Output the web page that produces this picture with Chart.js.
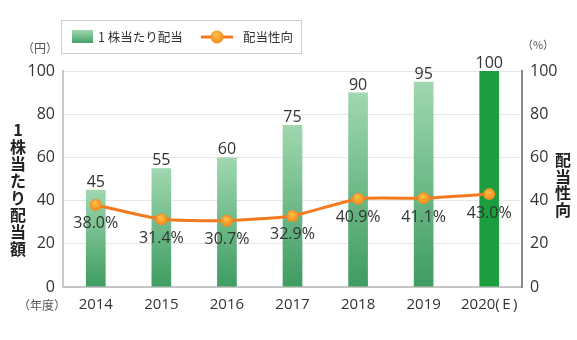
<!DOCTYPE html>
<html>
<head>
<meta charset="utf-8">
<script src="https://cdn.jsdelivr.net/npm/chart.js@4"></script>
<style>
  body { margin: 0; background: #fff; }
  canvas { display: block; }
</style>
</head>
<body>
<canvas id="dividendChart" width="577" height="340"></canvas>
<script>
const years = ['2014', '2015', '2016', '2017', '2018', '2019', '2020(\u2009E\u2009)'];
const dividends = [45, 55, 60, 75, 90, 95, 100];
const payoutRatio = [38.0, 31.4, 30.7, 32.9, 40.9, 41.1, 43.0];
const yTicks = [0, 20, 40, 60, 80, 100];

const FONT = "'Open Sans', 'Noto Sans CJK JP', sans-serif";
const JP = "'Noto Sans CJK JP', sans-serif";

function barColor(ctx) {
  const chart = ctx.chart;
  if (ctx.dataIndex === years.length - 1) return '#1b9e40';
  const y = chart.scales.y;
  if (!chart.chartArea || !y) return '#6bbb86';
  const top = y.getPixelForValue(dividends[ctx.dataIndex]);
  const bottom = y.getPixelForValue(0);
  const g = chart.ctx.createLinearGradient(0, top, 0, bottom);
  g.addColorStop(0, '#a0d7b0');
  g.addColorStop(1, '#3e9c62');
  return g;
}

function pointColor(ctx) {
  const chart = ctx.chart;
  if (!chart.chartArea) return '#f5921e';
  const x = chart.scales.x.getPixelForValue(ctx.dataIndex);
  const y = chart.scales.y1.getPixelForValue(payoutRatio[ctx.dataIndex]);
  const g = chart.ctx.createRadialGradient(x - 1, y - 2, 1, x, y, 6);
  g.addColorStop(0, '#fbbd45');
  g.addColorStop(1, '#f28a1c');
  return g;
}

const extras = {
  id: 'extras',
  afterDatasetsDraw(chart) {
    const c = chart.ctx;
    const x = chart.scales.x;
    const y = chart.scales.y;
    const y1 = chart.scales.y1;
    c.save();
    c.fillStyle = '#333';
    c.font = '16px ' + FONT;
    c.textAlign = 'center';
    c.textBaseline = 'alphabetic';
    dividends.forEach((v, i) => {
      c.fillText(String(v), x.getPixelForValue(i), y.getPixelForValue(v) - 3);
    });
    c.textBaseline = 'middle';
    payoutRatio.forEach((v, i) => {
      c.fillText(v.toFixed(1) + '%', x.getPixelForValue(i), y1.getPixelForValue(v) + 19);
    });
    c.restore();
  },
  afterDraw(chart) {
    const c = chart.ctx;
    c.save();
    // axis titles, one character per line
    c.fillStyle = '#222';
    c.textAlign = 'center';
    c.textBaseline = 'middle';
    c.font = 'bold 16px ' + JP;
    const left = ['1', '株', '当', 'た', 'り', '配', '当', '額'];
    left.forEach((ch, i) => c.fillText(ch, 18, 130 + i * 17));
    const right = ['配', '当', '性', '向'];
    right.forEach((ch, i) => c.fillText(ch, 563, 160 + i * 16.5));

    // unit labels
    c.fillStyle = '#555';
    c.font = '12px ' + JP;
    c.fillText('（円）', 40, 48);
    c.fillText('（年度）', 42, 305);
    c.font = '11px ' + JP;
    c.fillText('（%）', 538, 45);

    // legend
    c.strokeStyle = '#cfcfcf';
    c.lineWidth = 1;
    c.strokeRect(61.5, 20.5, 240, 33);
    const g = c.createLinearGradient(0, 30, 0, 43);
    g.addColorStop(0, '#9fd6b0');
    g.addColorStop(1, '#46a268');
    c.fillStyle = g;
    c.fillRect(72, 30, 21, 13);
    c.fillStyle = '#333';
    c.font = '12.5px ' + JP;
    c.textAlign = 'left';
    c.fillText(chart.data.datasets[1].label, 98, 37);
    c.strokeStyle = '#f37a21';
    c.lineWidth = 3;
    c.beginPath();
    c.moveTo(201, 37);
    c.lineTo(233, 37);
    c.stroke();
    const pg = c.createRadialGradient(216, 34, 1, 217, 37, 7);
    pg.addColorStop(0, '#fcc04a');
    pg.addColorStop(1, '#f28a1c');
    c.fillStyle = pg;
    c.beginPath();
    c.arc(217, 37, 6.5, 0, Math.PI * 2);
    c.fill();
    c.fillStyle = '#333';
    c.fillText(chart.data.datasets[0].label, 243, 37);
    c.restore();
  }
};

new Chart(document.getElementById('dividendChart'), {
  data: {
    labels: years,
    datasets: [
      {
        type: 'line',
        label: '配当性向',
        data: payoutRatio,
        yAxisID: 'y1',
        borderColor: '#f37a21',
        borderWidth: 3,
        pointRadius: 6,
        pointBorderWidth: 0,
        pointBackgroundColor: pointColor,
        tension: 0.15,
        order: 0
      },
      {
        type: 'bar',
        label: '1 株当たり配当',
        data: dividends,
        yAxisID: 'y',
        backgroundColor: barColor,
        barPercentage: 0.3,
        categoryPercentage: 1,
        order: 1
      }
    ]
  },
  options: {
    responsive: false,
    animation: false,
    layout: { padding: { top: 71, left: 0, right: 0, bottom: 0 } },
    plugins: {
      legend: { display: false },
      tooltip: { enabled: false }
    },
    scales: {
      x: {
        grid: { display: false, drawTicks: false },
        border: { color: '#c4c4c4', width: 2 },
        ticks: {
          color: '#333',
          font: { size: 15, family: FONT },
          padding: 9,
          maxRotation: 0,
          minRotation: 0,
          autoSkip: false
        },
        afterFit(scale) { scale.height = 53; }
      },
      y: {
        position: 'left',
        min: 0,
        max: 100,
        ticks: {
          stepSize: 20,
          color: '#333',
          font: { size: 16, family: FONT },
          padding: 8,
          callback: v => yTicks.includes(v) ? v : ''
        },
        grid: { color: '#e6e6e6', drawTicks: false },
        border: { color: '#c8c8c8', width: 2 },
        afterFit(scale) { scale.width = 63; }
      },
      y1: {
        position: 'right',
        min: 0,
        max: 100,
        ticks: {
          stepSize: 20,
          color: '#333',
          font: { size: 16, family: FONT },
          padding: 8
        },
        grid: { drawOnChartArea: false, drawTicks: false },
        border: { color: '#8a8a8a', width: 2 },
        afterFit(scale) { scale.width = 55; }
      }
    }
  },
  plugins: [extras]
});
</script>
</body>
</html>
